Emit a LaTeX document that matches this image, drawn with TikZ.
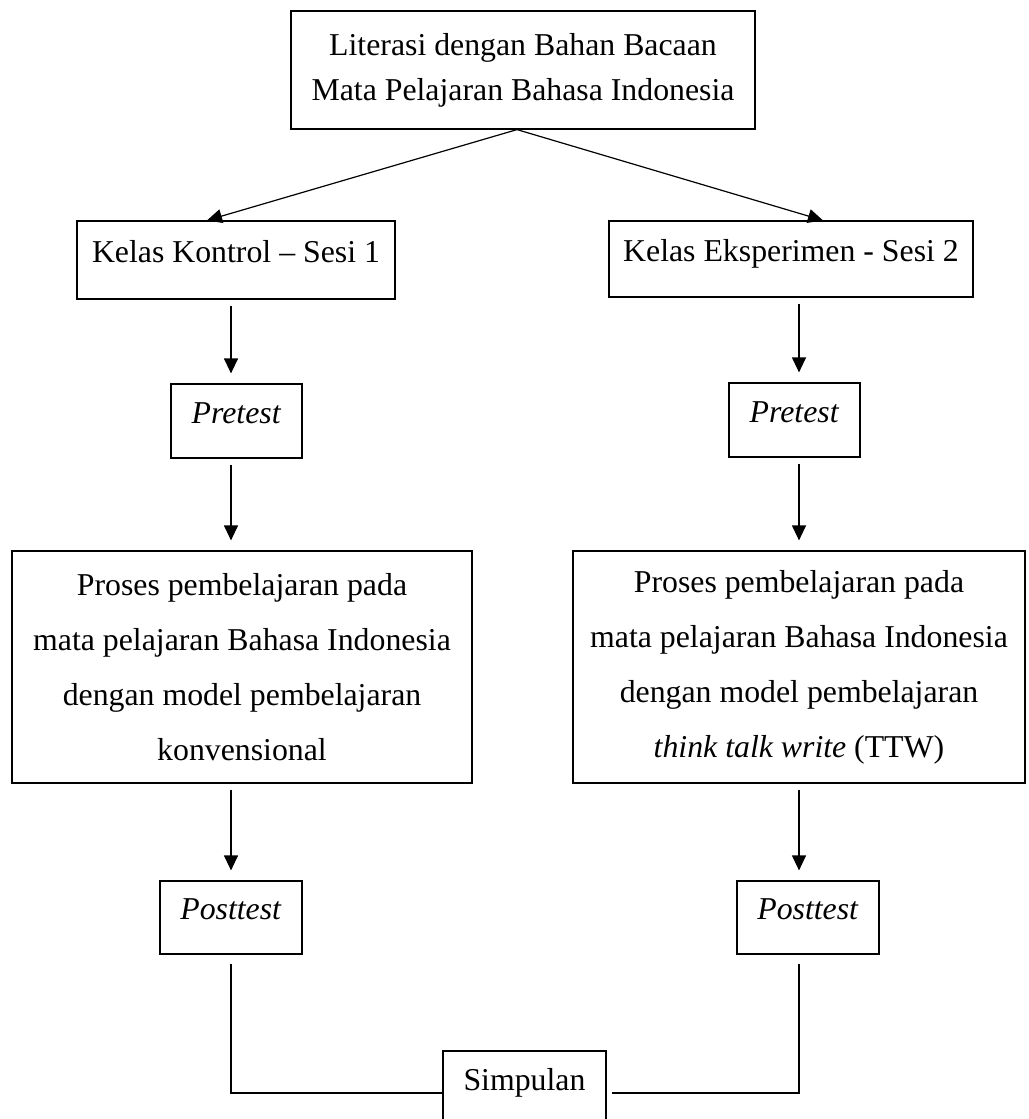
\documentclass[tikz,border=0pt]{standalone}
\usepackage{fontspec}
\setmainfont{Liberation Serif}
\usetikzlibrary{arrows.meta,positioning,calc}
\tikzset{
  box/.style={rectangle, draw=black, line width=1.2pt, inner sep=0pt, align=center, text height=22pt, text depth=18pt},
  bigbox/.style={rectangle, draw=black, line width=1.2pt, inner sep=0pt, align=center, font=\fontsize{31.8pt}{55pt}\selectfont},
  flow/.style={line width=1.2pt, -{Triangle[length=15pt,width=14pt]}},
  vflow/.style={flow, shorten <=6pt, shorten >=10pt},
  link/.style={line width=1.2pt},
}

\begin{document}
\begin{tikzpicture}[x=1pt, y=-1pt, font=\fontsize{31.8pt}{38pt}\selectfont]
  \useasboundingbox (0,0) rectangle (1028,1119);
  % top
  \node[bigbox, font=\fontsize{31.8pt}{45pt}\selectfont, minimum width=464pt, minimum height=118pt] (top) at (523,70) {Literasi dengan Bahan Bacaan\\Mata Pelajaran Bahasa Indonesia};
  % classes
  \node[box, minimum width=318pt, minimum height=78pt] (kontrol) at (236,260) {Kelas Kontrol -- Sesi 1};
  \node[box, minimum width=364pt, minimum height=76pt] (eksp) at (791,259) {Kelas Eksperimen - Sesi 2};
  % pretest
  \node[box, minimum width=131pt, minimum height=74pt] (preL) at (236.5,421) {\textit{Pretest}};
  \node[box, minimum width=131pt, minimum height=74pt] (preR) at (794.5,420) {\textit{Pretest}};
  % learning process
  \node[bigbox, minimum width=460pt, minimum height=232pt] (procL) at (242,667) {Proses pembelajaran pada\\mata pelajaran Bahasa Indonesia\\dengan model pembelajaran\\konvensional};
  \node[bigbox, minimum width=452pt, minimum height=232pt] (procR) at (799,667) {Proses pembelajaran pada\\mata pelajaran Bahasa Indonesia\\dengan model pembelajaran\\\textit{think talk write} (TTW)};
  % posttest
  \node[box, minimum width=142pt, minimum height=73pt] (postL) at (231,917.5) {\textit{Posttest}};
  \node[box, minimum width=142pt, minimum height=73pt] (postR) at (808,917.5) {\textit{Posttest}};
  % conclusion
  \node[box, text depth=28pt, minimum width=163pt, minimum height=84pt] (simp) at (524.5,1093) {Simpulan};
  % arrows
  \draw[flow] ([xshift=-6pt]top.south) -- ($(kontrol.north)+(-29,0)$);
  \draw[flow] ([xshift=-6pt]top.south) -- ($(eksp.north)+(32,0)$);
  \draw[vflow] (kontrol.south -| postL) -- (preL.north -| postL);
  \draw[vflow] (preL.south -| postL) -- (procL.north -| postL);
  \draw[vflow] (procL.south -| postL) -- (postL.north);
  \draw[vflow] (eksp.south -| procR) -- (preR.north -| procR);
  \draw[vflow] (preR.south -| procR) -- (procR.north);
  \draw[vflow] (procR.south) -- (postR.north -| procR);
  % lines to conclusion
  \draw[link] ($(postL.south)+(0,9)$) |- (simp.west);
  \draw[link] ($(simp.east)+(5,0)$) -| ($(postR.south -| procR)+(0,9)$);
\end{tikzpicture}
\end{document}
